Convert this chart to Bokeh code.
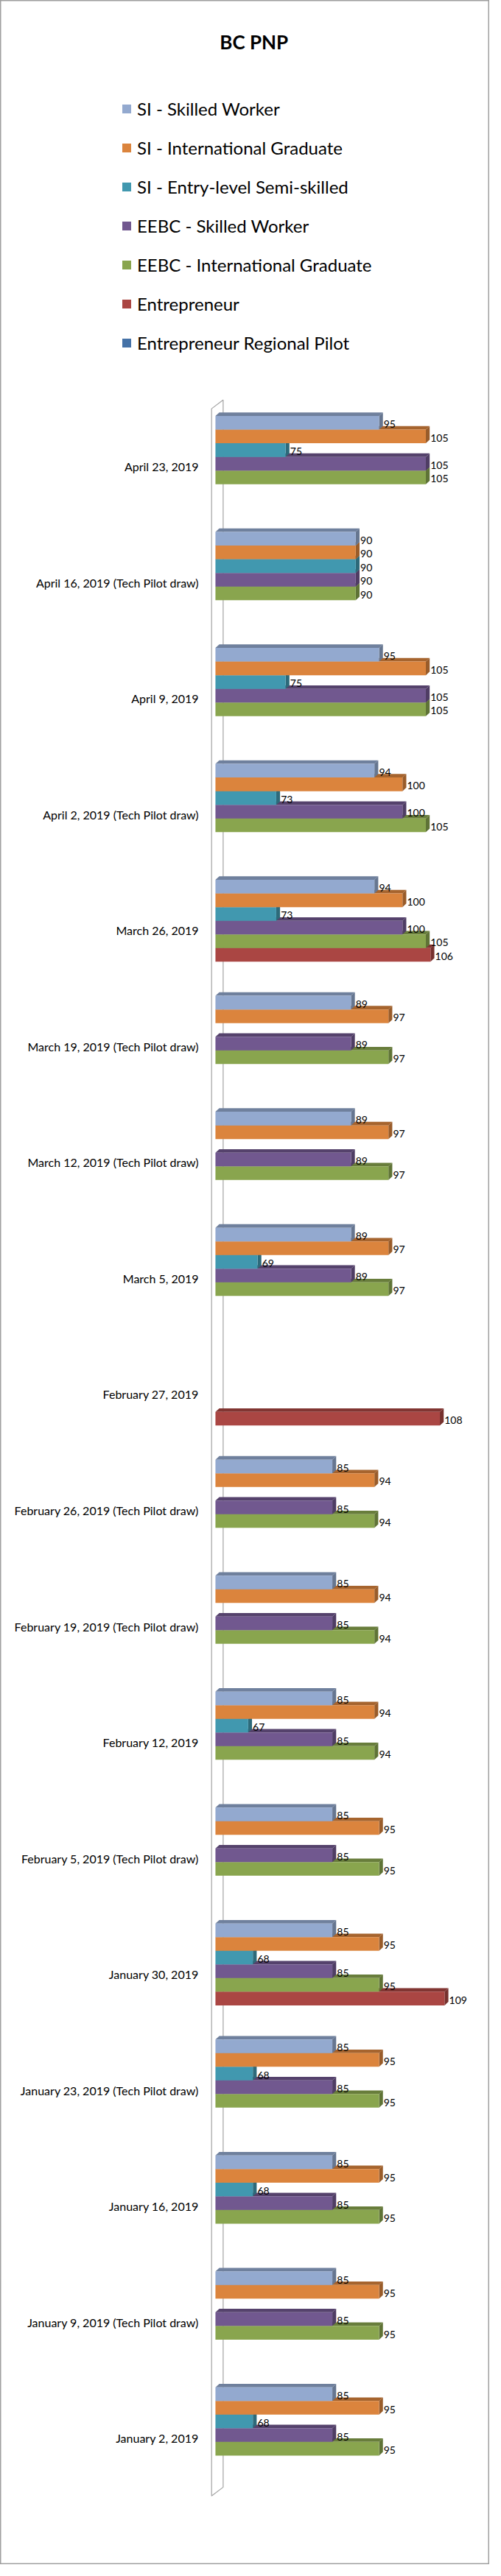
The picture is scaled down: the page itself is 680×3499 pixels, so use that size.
import math
from bokeh.plotting import figure
from bokeh.models import Range1d, Legend, LegendItem, Label
from bokeh.core.properties import value
from bokeh.embed import file_html
from bokeh.resources import INLINE

# ---------------- data ----------------
categories = [
    "April 23, 2019", "April 16, 2019 (Tech Pilot draw)", "April 9, 2019",
    "April 2, 2019 (Tech Pilot draw)", "March 26, 2019",
    "March 19, 2019 (Tech Pilot draw)", "March 12, 2019 (Tech Pilot draw)",
    "March 5, 2019", "February 27, 2019", "February 26, 2019 (Tech Pilot draw)",
    "February 19, 2019 (Tech Pilot draw)", "February 12, 2019",
    "February 5, 2019 (Tech Pilot draw)", "January 30, 2019",
    "January 23, 2019 (Tech Pilot draw)", "January 16, 2019",
    "January 9, 2019 (Tech Pilot draw)", "January 2, 2019",
]
N = None
si_skilled_worker = [95, 90, 95, 94, 94, 89, 89, 89, N, 85, 85, 85, 85, 85, 85, 85, 85, 85]
si_international_graduate = [105, 90, 105, 100, 100, 97, 97, 97, N, 94, 94, 94, 95, 95, 95, 95, 95, 95]
si_entry_level = [75, 90, 75, 73, 73, N, N, 69, N, N, N, 67, N, 68, 68, 68, N, 68]
eebc_skilled_worker = [105, 90, 105, 100, 100, 89, 89, 89, N, 85, 85, 85, 85, 85, 85, 85, 85, 85]
eebc_international_graduate = [105, 90, 105, 105, 105, 97, 97, 97, N, 94, 94, 94, 95, 95, 95, 95, 95, 95]
entrepreneur = [N, N, N, N, 106, N, N, N, 108, N, N, N, N, 109, N, N, N, N]
entrepreneur_regional_pilot = [N] * 18

series_names = [
    "SI - Skilled Worker", "SI - International Graduate",
    "SI - Entry-level Semi-skilled", "EEBC - Skilled Worker",
    "EEBC - International Graduate", "Entrepreneur",
    "Entrepreneur Regional Pilot",
]
series_values = [
    si_skilled_worker, si_international_graduate, si_entry_level,
    eebc_skilled_worker, eebc_international_graduate, entrepreneur,
    entrepreneur_regional_pilot,
]
series_colors = ["#93A9CF", "#DB843D", "#4198AF", "#71588F", "#89A54E", "#AA4643", "#4572A7"]

AXIS_MIN = 60  # value axis minimum of the original chart

# ---------------- layout constants ----------------
W, H = 664, 3483
SX, SY = 664 / 677, 3483 / 3496         # reference px -> canvas px
PXU_REF = 6.47                           # ref px per value unit
CAT_REF = 158.1                          # ref px per category
PXU = PXU_REF * SX
CATPX = CAT_REF * SY
X0 = AXIS_MIN - (293.3 - 1) * SX / PXU
Y0 = -(557.7 - 1) * SY / CATPX


def dx_of(ref_x):
    return X0 + (ref_x - 1) * SX / PXU


def dy_of(ref_y):
    return Y0 + (ref_y - 1) * SY / CATPX


NS = len(series_names)
GAP = 1.5
BH = 1.0 / (NS + GAP)
BX, BY = 5.35 / PXU_REF, 4.0 / CAT_REF      # shift of bar front plane
DX, DY = 5.3 / PXU_REF, 4.8 / CAT_REF       # bar depth
WX, WY = 16.0 / PXU_REF, 12.0 / CAT_REF     # wall depth


def shade(hexcol, f):
    r, g, b = int(hexcol[1:3], 16), int(hexcol[3:5], 16), int(hexcol[5:7], 16)
    return "#%02x%02x%02x" % (int(r * f), int(g * f), int(b * f))


p = figure(width=W, height=H, output_backend="svg", toolbar_location=None,
           x_range=Range1d(X0, X0 + W / PXU),
           y_range=Range1d(Y0 + H / CATPX, Y0),
           x_axis_type=None, y_axis_type=None, title=None,
           min_border=0, min_border_left=0, min_border_right=0,
           min_border_top=0, min_border_bottom=0)
p.grid.visible = False
p.background_fill_color = "white"
p.border_fill_color = "white"
p.outline_line_color = "#A0A0A0"
p.outline_line_width = 2

# ---------------- wall ----------------
ncat = len(categories)
p.patch([AXIS_MIN, AXIS_MIN + WX, AXIS_MIN + WX, AXIS_MIN],
        [0, -WY, ncat - WY, ncat],
        fill_color=None, line_color="#A3A3A3", line_width=1.2)

# ---------------- bars ----------------
front_renderers = {}
lab_x, lab_y, lab_t = [], [], []
for j in reversed(range(NS)):
    vals = series_values[j]
    col = series_colors[j]
    fx, fy, tx, ty, sx_, sy_ = [], [], [], [], [], []
    for i, v in enumerate(vals):
        t = i + (GAP / 2 + j) * BH - BY
        b = t + BH
        x0 = AXIS_MIN + BX
        x1 = (math.nan if v is None else v) + BX
        fx.append([x0, x1, x1, x0]); fy.append([t, t, b, b])
        tx.append([x0, x0 + DX, x1 + DX, x1]); ty.append([t, t - DY, t - DY, t])
        sx_.append([x1, x1 + DX, x1 + DX, x1]); sy_.append([t, t - DY, b - DY, b])
        if v is not None:
            lab_x.append(x1 + DX); lab_y.append((t + b) / 2); lab_t.append(str(v))
    p.patches(xs=tx, ys=ty, fill_color=shade(col, 0.76), line_color=None)
    p.patches(xs=sx_, ys=sy_, fill_color=shade(col, 0.70), line_color=None)
    front_renderers[j] = p.patches(xs=fx, ys=fy, fill_color=col, line_color=None)

# value labels
p.text(x=lab_x, y=lab_y, text=lab_t, text_font=value("Lato"),
       text_font_size="14px", text_color="#000000", text_align="left",
       text_baseline="middle", x_offset=1, y_offset=2)

# category labels
p.text(x=[dx_of(275.4)] * ncat, y=[i + 0.5 for i in range(ncat)], text=categories,
       text_font=value("Lato"), text_font_size="16px", text_color="#000000",
       text_align="right", text_baseline="middle")

# title
p.add_layout(Label(x=dx_of(352), y=dy_of(58), text="BC PNP",
                   text_font="Lato", text_font_size="26px", text_font_style="bold",
                   text_color="#000000", text_align="center", text_baseline="middle"))

# legend
items = [LegendItem(label=series_names[j], renderers=[front_renderers[j]], index=0)
         for j in range(NS)]
legend = Legend(items=items, location=(164, 3003), orientation="vertical",
                glyph_width=15, glyph_height=15, label_standoff=7,
                label_text_font="Lato", label_text_font_size="24px",
                label_text_color="#000000", label_height=30, spacing=23,
                padding=0, margin=0, border_line_color=None,
                background_fill_alpha=0)
p.add_layout(legend)

open("out.html", "w").write(file_html(p, INLINE))
